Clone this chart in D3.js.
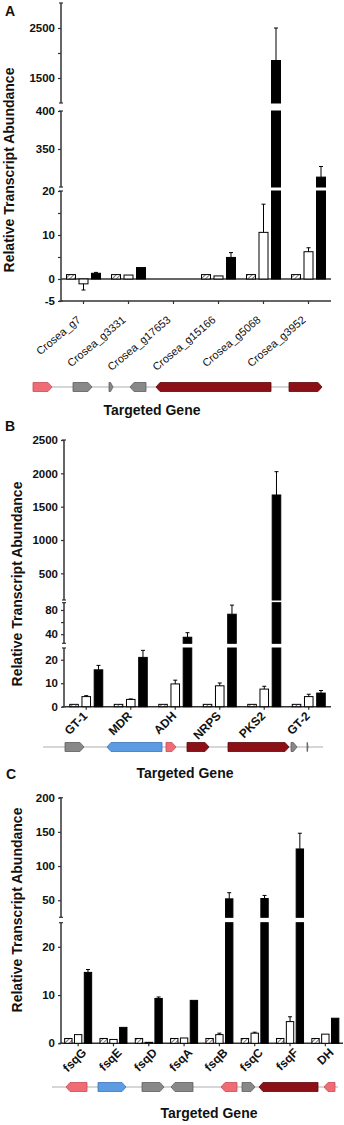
<!DOCTYPE html>
<html>
<head>
<meta charset="utf-8">
<script src="https://cdn.jsdelivr.net/npm/d3@7"></script>
<style>
  body { margin: 0; background: #fff; }
  svg { display: block; font-family: "Liberation Sans", Arial, sans-serif; }
</style>
</head>
<body>
<div id="chart"></div>
<script>
// ---- panel A data ----
const catsA = ["Crosea_g7", "Crosea_g3331", "Crosea_g17653", "Crosea_g15166", "Crosea_g5068", "Crosea_g3952"];
const ctrlA = [1, 1, null, 1, 1, 1];
const lowA = [-1.1, 0.9, null, 0.7, 10.6, 6.2];
const lowErrA = [1.4, 0, null, 0, 6.4, 0.9];
const highA = [1.3, 2.6, null, 4.9, 1850, 313];
const highErrA = [0.2, 0, null, 1.1, 650, 14];
const ticksA = [[-5, 0, 10, 20], [350, 400], [1500, 2500]];
const minorA = [[5, 15], [], [2000]];

// ---- panel B data ----
const catsB = ["GT-1", "MDR", "ADH", "NRPS", "PKS2", "GT-2"];
const ctrlB = [1, 1, 1, 1, 1, 1];
const lowB = [4.3, 3.1, 9.7, 8.9, 7.5, 4.3];
const lowErrB = [0.4, 0.2, 1.6, 1.2, 1.2, 1.0];
const highB = [15.7, 21, 35, 73, 1675, 5.8];
const highErrB = [1.9, 3, 7.5, 15, 350, 1.1];
const ticksB = [[0, 10, 20], [40, 80], [500, 1000, 1500, 2000, 2500]];
const minorB = [[], [60], []];

// ---- panel C data ----
const catsC = ["fsqG", "fsqE", "fsqD", "fsqA", "fsqB", "fsqC", "fsqF", "DH"];
const ctrlC = [1, 1, 1, 1, 1, 1, 1, 1];
const lowC = [1.8, 0.8, 0.2, 1.1, 1.8, 2.1, 4.5, 1.9];
const lowErrC = [0, 0, 0, 0, 0.3, 0.2, 1.0, 0];
const highC = [14.7, 3.3, 9.3, 8.9, 52, 52.5, 125, 5.2];
const highErrC = [0.6, 0, 0.3, 0, 9, 4.5, 23, 0];
const ticksC = [[0, 10, 20], [50, 100, 150, 200]];
const minorC = [[], []];

// gene tracks: [start, end, direction, kind] in track units
const genesA = [[0, 19, 1, "pink"], [40, 59, 1, "gray"], [76, 80, 1, "gray"], [97, 113, -1, "gray"], [123, 238, -1, "dred"], [256, 289, 1, "dred"]];
const genesB = [[22, 41, 1, "gray"], [64, 119, -1, "blue"], [123, 133, 1, "pink"], [144, 166, 1, "dred"], [185, 246, 1, "dred"], [248, 254, 1, "gray"], [264, 265, 1, "gray"]];
const genesC = [[14, 35, -1, "pink"], [46, 74, 1, "blue"], [90, 112, 1, "gray"], [119, 141, -1, "gray"], [169, 185, -1, "pink"], [190, 203, 1, "gray"], [207, 266, -1, "dred"], [272, 283, -1, "pink"]];

const geneFill = { pink: "#f06c75", gray: "#888888", dred: "#8c1117", blue: "#5d9be3" };
const geneStroke = { pink: "#c94b55", gray: "#5e5e5e", dred: "#5e080c", blue: "#3c74b8" };

const W = 344, H = 1125;
const svg = d3.select("#chart").append("svg").attr("width", W).attr("height", H);

const defs = svg.append("defs");
const pat = defs.append("pattern")
  .attr("id", "hatch").attr("patternUnits", "userSpaceOnUse")
  .attr("width", 3).attr("height", 3)
  .attr("patternTransform", "rotate(45)");
pat.append("rect").attr("width", 3).attr("height", 3).attr("fill", "#fff");
pat.append("line").attr("x1", 0).attr("y1", 0).attr("x2", 0).attr("y2", 3)
  .attr("stroke", "#333").attr("stroke-width", 1.3);

function drawPanel(p) {
  const g = svg.append("g");

  // y segments (broken axis)
  const segs = p.segs.map((s, i) => ({
    scale: d3.scaleLinear().domain(s.domain).range(s.range),
    domain: s.domain,
    ticks: p.ticks[i],
    minor: p.minor[i]
  }));
  function yAt(v) {
    let seg = segs.find(s => v >= s.domain[0] && v <= s.domain[1]);
    if (!seg) seg = segs.filter(s => s.domain[1] < v).pop() || segs[0];
    return seg.scale(Math.min(Math.max(v, seg.domain[0]), seg.domain[1]));
  }

  segs.forEach(s => {
    const ax = g.append("g")
      .attr("transform", `translate(${p.axisX},0)`)
      .call(d3.axisLeft(s.scale)
        .tickValues(s.ticks.concat(s.minor))
        .tickSize(3).tickPadding(3)
        .tickFormat(d => s.minor.includes(d) ? "" : d));
    ax.select(".domain").remove();
    ax.selectAll(".tick line").attr("stroke", "#333").attr("stroke-width", 1.2);
    ax.selectAll(".tick text")
      .attr("fill", "#111").style("font-size", "11.5px").style("font-weight", "bold")
      .style("font-family", "'Liberation Sans', Arial, sans-serif");
    const [y0, y1] = s.scale.range();
    g.append("line").attr("x1", p.axisX).attr("x2", p.axisX).attr("y1", y0).attr("y2", y1)
      .attr("stroke", "#333").attr("stroke-width", 1.5);
    [y0, y1].forEach(y => g.append("line")
      .attr("x1", p.axisX - 2).attr("x2", p.axisX + 2).attr("y1", y).attr("y2", y)
      .attr("stroke", "#333").attr("stroke-width", 1.2));
  });

  // x scales
  const x0 = d3.scaleBand().domain(p.cats).range(p.xRange);
  const x1 = d3.scaleBand().domain([0, 1, 2])
    .range([-p.span / 2, p.span / 2]).paddingInner(p.barPad);
  const cx = c => x0(c) + x0.bandwidth() / 2;

  // x axis
  const xAxisY = yAt(p.xAxisAt);
  g.append("line").attr("x1", p.xRange[0]).attr("x2", p.xRange[1])
    .attr("y1", xAxisY).attr("y2", xAxisY).attr("stroke", "#333").attr("stroke-width", 1.5);
  if (p.xAxisAt !== 0) {
    const zy = yAt(0);
    g.append("line").attr("x1", p.xRange[0]).attr("x2", p.xRange[1])
      .attr("y1", zy).attr("y2", zy).attr("stroke", "#333").attr("stroke-width", 1.5);
  }
  g.selectAll(".xtick").data(p.cats).join("line")
    .attr("x1", cx).attr("x2", cx).attr("y1", xAxisY).attr("y2", xAxisY + 3)
    .attr("stroke", "#333").attr("stroke-width", 1.2);

  // bars
  const series = [
    { vals: p.ctrl, errs: null, fill: "url(#hatch)" },
    { vals: p.low, errs: p.lowErr, fill: "#fff" },
    { vals: p.high, errs: p.highErr, fill: "#000" }
  ];
  series.forEach((s, si) => {
    p.cats.forEach((c, ci) => {
      const v = s.vals[ci];
      if (v == null) return;
      const bx = cx(c) + x1(si);
      const bw = x1.bandwidth();
      segs.forEach(seg => {
        const lo = Math.max(seg.domain[0], Math.min(0, v));
        const hi = Math.min(seg.domain[1], Math.max(0, v));
        if (hi <= lo) return;
        const yt = seg.scale(hi), yb = seg.scale(lo);
        g.append("rect").attr("x", bx).attr("y", yt).attr("width", bw).attr("height", yb - yt)
          .attr("fill", s.fill).attr("stroke", "#000").attr("stroke-width", 1);
      });
      const e = s.errs ? s.errs[ci] : 0;
      if (e > 0) {
        const ex = bx + bw / 2;
        const ya = yAt(v), yb = yAt(v < 0 ? v - e : v + e);
        g.append("line").attr("x1", ex).attr("x2", ex).attr("y1", ya).attr("y2", yb)
          .attr("stroke", "#000").attr("stroke-width", 1);
        g.append("line").attr("x1", ex - 2).attr("x2", ex + 2).attr("y1", yb).attr("y2", yb)
          .attr("stroke", "#000").attr("stroke-width", 1);
      }
    });
  });

  // x labels
  g.selectAll(".xlab").data(p.cats).join("text")
    .attr("transform", c => `translate(${cx(c) + p.labDx},${xAxisY + p.labDy}) rotate(${p.labRot})`)
    .attr("text-anchor", "end")
    .attr("fill", "#111")
    .style("font-size", p.labSize).style("font-weight", p.labWeight)
    .text(c => c);

  // gene track
  const gx = d3.scaleLinear().domain([0, p.trackLen]).range(p.trackRange);
  const gy = p.trackY, hh = 4.5;
  g.append("line").attr("x1", p.trackRange[0]).attr("x2", p.trackRange[1])
    .attr("y1", gy).attr("y2", gy).attr("stroke", "#c8c8c8").attr("stroke-width", 1.5);
  g.selectAll(".gene").data(p.genes).join("path")
    .attr("d", d => {
      const a = gx(d[0]), b = gx(d[1]);
      const tip = Math.min(4, (b - a) * 0.6);
      if (d[2] > 0) {
        return `M${a},${gy - hh}L${b - tip},${gy - hh}L${b},${gy}L${b - tip},${gy + hh}L${a},${gy + hh}Z`;
      }
      return `M${b},${gy - hh}L${a + tip},${gy - hh}L${a},${gy}L${a + tip},${gy + hh}L${b},${gy + hh}Z`;
    })
    .attr("fill", d => geneFill[d[3]])
    .attr("stroke", d => geneStroke[d[3]]).attr("stroke-width", 0.8);

  // titles
  g.append("text").attr("x", p.xTitle[0]).attr("y", p.xTitle[1])
    .attr("text-anchor", "middle").attr("fill", "#111")
    .style("font-size", "14px").style("font-weight", "bold")
    .text("Targeted Gene");
  g.append("text")
    .attr("transform", `translate(${p.yTitle[0]},${p.yTitle[1]}) rotate(-90)`)
    .attr("text-anchor", "middle").attr("dominant-baseline", "central").attr("fill", "#111")
    .style("font-size", "14px").style("font-weight", "bold")
    .text("Relative Transcript Abundance");
  g.append("text").attr("x", p.letter[1]).attr("y", p.letter[2])
    .attr("fill", "#111").style("font-size", "14px").style("font-weight", "bold")
    .text(p.letter[0]);
}

drawPanel({
  cats: catsA, ctrl: ctrlA, low: lowA, lowErr: lowErrA, high: highA, highErr: highErrA,
  ticks: ticksA, minor: minorA,
  segs: [
    { domain: [-5, 20], range: [301, 191] },
    { domain: [300, 400], range: [187, 111] },
    { domain: [1000, 3000], range: [103, 3] }
  ],
  axisX: 61, xRange: [61, 331], xAxisAt: -5, span: 34, barPad: 0.28,
  labDx: -2, labDy: 20, labRot: -40, labSize: "11px", labWeight: "normal",
  genes: genesA, trackLen: 289, trackRange: [33, 322], trackY: 387,
  xTitle: [152, 415], yTitle: [9, 170], letter: ["A", 5, 16]
});

drawPanel({
  cats: catsB, ctrl: ctrlB, low: lowB, lowErr: lowErrB, high: highB, highErr: highErrB,
  ticks: ticksB, minor: minorB,
  segs: [
    { domain: [0, 25], range: [706.7, 648] },
    { domain: [25, 92], range: [643.3, 602.7] },
    { domain: [100, 2500], range: [600, 440] }
  ],
  axisX: 64, xRange: [64, 331], xAxisAt: 0, span: 33, barPad: 0.3,
  labDx: 2, labDy: 10, labRot: -45, labSize: "12px", labWeight: "bold",
  genes: genesB, trackLen: 280, trackRange: [43, 323], trackY: 747,
  xTitle: [185, 778], yTitle: [17, 584], letter: ["B", 5, 431]
});

drawPanel({
  cats: catsC, ctrl: ctrlC, low: lowC, lowErr: lowErrC, high: highC, highErr: highErrC,
  ticks: ticksC, minor: minorC,
  segs: [
    { domain: [0, 25], range: [1043.3, 922.7] },
    { domain: [25, 200], range: [917.3, 797.7] }
  ],
  axisX: 61, xRange: [60.5, 343], xAxisAt: 0, span: 27, barPad: 0.25,
  labDx: 9, labDy: 10, labRot: -45, labSize: "12px", labWeight: "bold",
  genes: genesC, trackLen: 286, trackRange: [52, 338], trackY: 1087,
  xTitle: [209, 1118], yTitle: [17, 910], letter: ["C", 6, 779]
});
</script>
</body>
</html>
